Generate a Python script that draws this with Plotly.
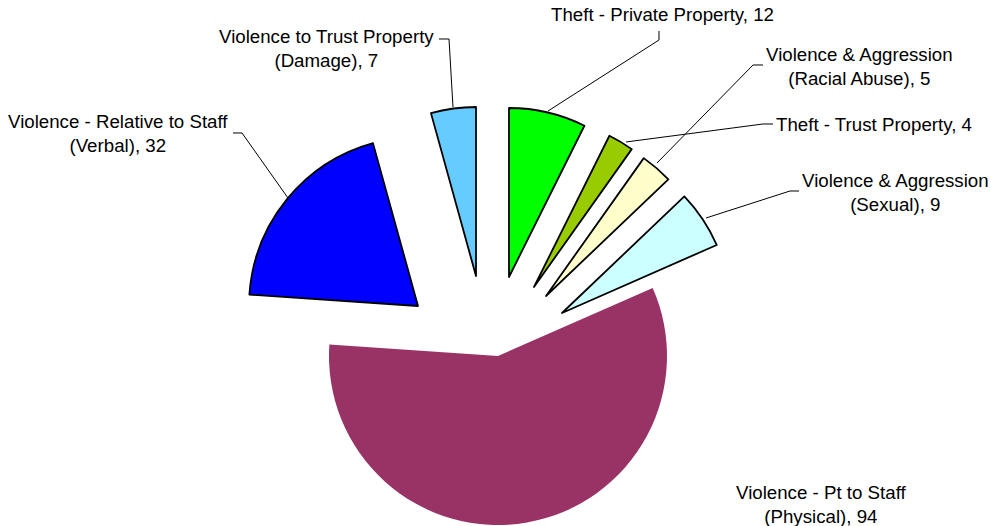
import plotly.graph_objects as go

# ---------------- data ----------------
categories = [
    "Theft - Private Property",
    "Theft - Trust Property",
    "Violence & Aggression (Racial Abuse)",
    "Violence & Aggression (Sexual)",
    "Violence - Pt to Staff (Physical)",
    "Violence - Relative to Staff (Verbal)",
    "Violence to Trust Property (Damage)",
]
values = [12, 4, 5, 9, 94, 32, 7]
# how each category name is wrapped in its label
wrapped_names = [
    "Theft - Private Property",
    "Theft - Trust Property",
    "Violence & Aggression<br>(Racial Abuse)",
    "Violence & Aggression<br>(Sexual)",
    "Violence - Pt to Staff<br>(Physical)",
    "Violence - Relative to Staff<br>(Verbal)",
    "Violence to Trust Property<br>(Damage)",
]

# ---------------- styles / layout ----------------
colors = ["#00FF00", "#99CC00", "#FFFFCC", "#CCFFFF", "#993366", "#0000FF", "#66CCFF"]
outline = [1.8, 1.8, 1.8, 1.8, 0, 1.8, 1.8]
W, H = 991, 526
R = 169  # pie radius in px
# exploded position (apex) of each slice, px
apex_px = [(509, 277), (534, 287), (546, 296), (562, 313), (498, 356), (418, 306), (476, 276)]
# label centres, px
label_px = [(662, 15), (874, 125), (859, 66.5), (895, 192.5), (821, 504), (118, 133.5), (326, 48)]
# leader lines, px
leader_px = [
    [(548, 111), (659, 40), (659, 31)],
    [(626, 142), (763, 124), (773, 124)],
    [(657, 163), (753, 65), (763, 65)],
    [(706, 218), (790, 191), (799, 191)],
    None,
    [(288, 198), (242, 133), (233, 133)],
    [(453, 107), (449, 39), (439, 39)],
]

FONT = "Arial, 'Liberation Sans', sans-serif"


def px2paper(x, y):
    return x / W, 1 - y / H


fig = go.Figure()
n = len(values)
for i in range(n):
    ax, ay = apex_px[i]
    slice_colors = [colors[j] if j == i else "rgba(0,0,0,0)" for j in range(n)]
    slice_lines = [outline[j] if j == i else 0 for j in range(n)]
    fig.add_trace(go.Pie(
        labels=categories,
        values=values,
        sort=False,
        direction="clockwise",
        rotation=0,
        textinfo="none",
        hoverinfo="label+value",
        showlegend=False,
        marker=dict(colors=slice_colors, line=dict(color="black", width=slice_lines)),
        domain=dict(x=[(ax - R) / W, (ax + R) / W], y=[1 - (ay + R) / H, 1 - (ay - R) / H]),
    ))

annotations = []
shapes = []
for i in range(n):
    lx, ly = px2paper(*label_px[i])
    annotations.append(dict(
        x=lx, y=ly, xref="paper", yref="paper", xanchor="center", yanchor="middle",
        text=f"{wrapped_names[i]}, {values[i]}", showarrow=False, align="center",
        font=dict(family=FONT, size=18.7, color="black"),
    ))
    pts = leader_px[i]
    if pts:
        path = "M " + " L ".join(f"{px2paper(x, y)[0]:.5f},{px2paper(x, y)[1]:.5f}" for x, y in pts)
        shapes.append(dict(type="path", path=path, xref="paper", yref="paper",
                           line=dict(color="black", width=1)))

fig.update_layout(
    width=W, height=H,
    margin=dict(l=0, r=0, t=0, b=0),
    paper_bgcolor="white", plot_bgcolor="white",
    annotations=annotations, shapes=shapes,
)

fig.write_html("out.html")
